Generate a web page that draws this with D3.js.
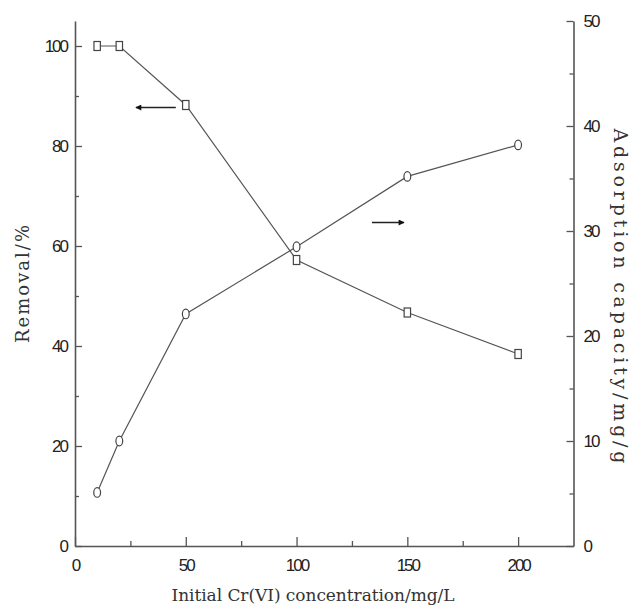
<!DOCTYPE html>
<html>
<head>
<meta charset="utf-8">
<script src="https://cdn.jsdelivr.net/npm/d3@7"></script>
<style>
body { margin: 0; background: #fff; }
</style>
</head>
<body>
<div class="chart"></div>
<script>
var conc = [10, 20, 50, 100, 150, 200];
var removal = [100, 100, 88.2, 57.2, 46.7, 38.4];
var capacity = [5.1, 10.0, 22.1, 28.5, 35.2, 38.2];
var xTicks = [0, 50, 100, 150, 200];
var leftTicks = [0, 20, 40, 60, 80, 100];
var rightTicks = [0, 10, 20, 30, 40, 50];

var width = 639, height = 611;
var x = d3.scaleLinear().domain([0, 225]).range([75, 573.5]);
var yL = d3.scaleLinear().domain([0, 105]).range([546, 21]);
var yR = d3.scaleLinear().domain([0, 50]).range([546, 21]);

var svg = d3.select(".chart").append("svg")
    .attr("width", width)
    .attr("height", height);

var axisColor = "#555";
var tickFont = "'Liberation Sans', Arial, sans-serif";
var titleFont = "'DejaVu Serif', 'Liberation Serif', serif";

function styleAxis(g) {
    g.select(".domain").attr("stroke", axisColor).attr("stroke-width", 1.6);
    g.selectAll(".tick line").attr("stroke", axisColor).attr("stroke-width", 1.3);
    g.selectAll(".tick text")
        .attr("fill", "#222")
        .style("font-family", tickFont)
        .style("font-size", "17px")
        .style("letter-spacing", "-2px");
}

// minor ticks
function minor(ticks) {
    var out = [];
    for (var i = 0; i < ticks.length - 1; i++) out.push((ticks[i] + ticks[i + 1]) / 2);
    return out;
}

var gx = svg.append("g").attr("transform", "translate(0,546)")
    .call(d3.axisBottom(x).tickValues(xTicks).tickSize(-9).tickSizeOuter(0).tickPadding(13));
styleAxis(gx);
svg.append("g").attr("transform", "translate(0,546)")
    .call(d3.axisBottom(x).tickValues(minor(xTicks)).tickSize(-5).tickFormat("").tickSizeOuter(0))
    .call(function(g){ g.select(".domain").remove(); g.selectAll("line").attr("stroke", axisColor).attr("stroke-width", 1.3); });

var gl = svg.append("g").attr("transform", "translate(75,0)")
    .call(d3.axisLeft(yL).tickValues(leftTicks).tickSize(-7).tickSizeOuter(0).tickPadding(8));
styleAxis(gl);
svg.append("g").attr("transform", "translate(75,0)")
    .call(d3.axisLeft(yL).tickValues(minor(leftTicks)).tickSize(-4).tickFormat("").tickSizeOuter(0))
    .call(function(g){ g.select(".domain").remove(); g.selectAll("line").attr("stroke", axisColor).attr("stroke-width", 1.3); });

var gr = svg.append("g").attr("transform", "translate(573.5,0)")
    .call(d3.axisRight(yR).tickValues(rightTicks).tickSize(-7).tickSizeOuter(0).tickPadding(10));
styleAxis(gr);
svg.append("g").attr("transform", "translate(573.5,0)")
    .call(d3.axisRight(yR).tickValues(minor(rightTicks)).tickSize(-4).tickFormat("").tickSizeOuter(0))
    .call(function(g){ g.select(".domain").remove(); g.selectAll("line").attr("stroke", axisColor).attr("stroke-width", 1.3); });

// lines
var lineL = d3.line().x(function(d, i){ return x(conc[i]); }).y(function(d){ return yL(d); });
var lineR = d3.line().x(function(d, i){ return x(conc[i]); }).y(function(d){ return yR(d); });

svg.append("path").attr("d", lineL(removal))
    .attr("fill", "none").attr("stroke", "#555").attr("stroke-width", 1.2);
svg.append("path").attr("d", lineR(capacity))
    .attr("fill", "none").attr("stroke", "#555").attr("stroke-width", 1.2);

// markers
svg.append("g").selectAll("rect").data(removal).enter().append("rect")
    .attr("x", function(d, i){ return x(conc[i]) - 3.2; })
    .attr("y", function(d){ return yL(d) - 4.5; })
    .attr("width", 6.4).attr("height", 9)
    .attr("fill", "#fff").attr("stroke", "#444").attr("stroke-width", 1.2);

svg.append("g").selectAll("ellipse").data(capacity).enter().append("ellipse")
    .attr("cx", function(d, i){ return x(conc[i]); })
    .attr("cy", function(d){ return yR(d); })
    .attr("rx", 3.4).attr("ry", 4.8)
    .attr("fill", "#fff").attr("stroke", "#444").attr("stroke-width", 1.2);

// arrows
var defs = svg.append("defs");
defs.append("marker").attr("id", "ah")
    .attr("viewBox", "0 0 10 10").attr("refX", 9).attr("refY", 5)
    .attr("markerWidth", 9).attr("markerHeight", 6).attr("markerUnits", "userSpaceOnUse")
    .attr("orient", "auto")
    .append("path").attr("d", "M0,0L10,5L0,10Z").attr("fill", "#111");

svg.append("line").attr("x1", x(45.5)).attr("y1", 107.5).attr("x2", x(27.5)).attr("y2", 107.5)
    .attr("stroke", "#222").attr("stroke-width", 1.5).attr("marker-end", "url(#ah)");
svg.append("line").attr("x1", x(134)).attr("y1", 222.5).attr("x2", x(148.5)).attr("y2", 222.5)
    .attr("stroke", "#222").attr("stroke-width", 1.5).attr("marker-end", "url(#ah)");

// titles
svg.append("text")
    .attr("transform", "translate(29,284) rotate(-90)")
    .attr("text-anchor", "middle")
    .attr("textLength", 118).attr("lengthAdjust", "spacing")
    .style("font-family", titleFont).style("font-size", "18px").attr("fill", "#333")
    .text("Removal/%");

svg.append("text")
    .attr("transform", "translate(614,296) rotate(90)")
    .attr("text-anchor", "middle")
    .attr("textLength", 335).attr("lengthAdjust", "spacing")
    .style("font-family", titleFont).style("font-size", "19px").attr("fill", "#333")
    .text("Adsorption capacity/mg/g");

svg.append("text")
    .attr("x", 313).attr("y", 601)
    .attr("text-anchor", "middle")
    .attr("textLength", 283).attr("lengthAdjust", "spacing")
    .style("font-family", titleFont).style("font-size", "17px").attr("fill", "#333")
    .text("Initial Cr(VI) concentration/mg/L");
</script>
</body>
</html>
